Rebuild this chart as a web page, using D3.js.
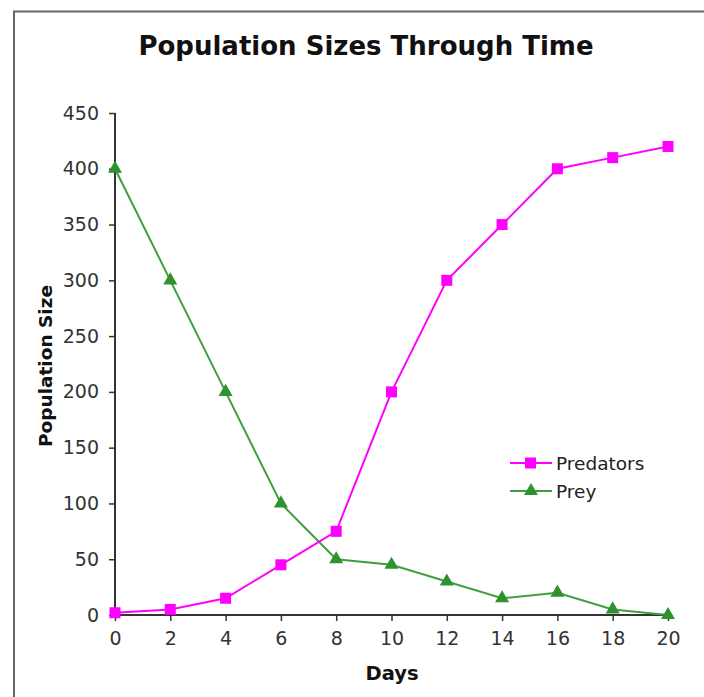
<!DOCTYPE html>
<html><head><meta charset="utf-8">
<script src="https://cdn.jsdelivr.net/npm/d3@7"></script>
<style>body{margin:0;background:#fff}svg{display:block}</style>
</head><body>
<script>
const days = [0,2,4,6,8,10,12,14,16,18,20];
const predators = [2,5,15,45,75,200,300,350,400,410,420];
const prey = [400,300,200,100,50,45,30,15,20,5,0];
const yTicks = [0,50,100,150,200,250,300,350,400,450];
const xTicks = [0,2,4,6,8,10,12,14,16,18,20];

const W=704,H=697;
const svg=d3.select("body").append("svg").attr("width",W).attr("height",H);
svg.append("rect").attr("width",W).attr("height",H).attr("fill","#fff");
svg.append("path").attr("d","M14,"+H+"V11.5H"+W).attr("fill","none").attr("stroke","#666").attr("stroke-width",2);

const font="DejaVu Sans, Verdana, sans-serif";
const x=d3.scaleLinear().domain([0,20]).range([115,668]);
const y=d3.scaleLinear().domain([0,450]).range([615,113]);

svg.append("text").attr("x",366).attr("y",55).attr("text-anchor","middle")
  .attr("font-family",font).attr("font-weight","bold").attr("font-size",26).attr("fill","#111")
  .text("Population Sizes Through Time");

const ya=svg.append("g").attr("transform","translate(115,0)")
  .call(d3.axisLeft(y).tickValues(yTicks).tickSize(6).tickPadding(10).tickFormat(d3.format("d")));
const xa=svg.append("g").attr("transform","translate(0,615)")
  .call(d3.axisBottom(x).tickValues(xTicks).tickSize(6).tickPadding(11).tickFormat(d3.format("d")));
[ya,xa].forEach(a=>{
  a.select(".domain").attr("stroke","#333").attr("stroke-width",2).attr("d", a===ya? "M0,"+y(450)+"V"+y(0) : "M"+x(0)+",0H"+x(20));
  a.selectAll(".tick line").attr("stroke","#333").attr("stroke-width",1.5);
  a.selectAll(".tick text").attr("font-family",font).attr("font-size",19).attr("fill","#333");
});

svg.append("text").attr("transform","translate(52,366) rotate(-90)").attr("text-anchor","middle")
  .attr("font-family",font).attr("font-weight","bold").attr("font-size",18.5).attr("fill","#111").text("Population Size");
svg.append("text").attr("x",392).attr("y",680).attr("text-anchor","middle")
  .attr("font-family",font).attr("font-weight","bold").attr("font-size",19.5).attr("fill","#111").text("Days");

const line=d3.line().x(d=>x(d[0])).y(d=>y(d[1]));
const pred=days.map((d,i)=>[d,predators[i]]);
const pr=days.map((d,i)=>[d,prey[i]]);
const magenta="#ff00ff", green="#3f9f3f", gDark="#2e922e";

svg.append("path").datum(pr).attr("d",line).attr("fill","none").attr("stroke",green).attr("stroke-width",2);
svg.append("path").datum(pred).attr("d",line).attr("fill","none").attr("stroke",magenta).attr("stroke-width",2);

const tri=d3.symbol().type(d3.symbolTriangle).size(85);
svg.selectAll(".pt").data(pr).join("path").attr("transform",d=>`translate(${x(d[0])},${y(d[1])})`)
  .attr("d",tri).attr("fill",gDark);
svg.selectAll(".pm").data(pred).join("rect").attr("x",d=>x(d[0])-5.5).attr("y",d=>y(d[1])-5.5)
  .attr("width",11).attr("height",11).attr("fill",magenta);

const lg=svg.append("g");
const items=[["Predators",magenta,"sq"],["Prey",green,"tri"]];
items.forEach((it,i)=>{
  const yy=463+i*28;
  lg.append("line").attr("x1",510).attr("x2",552).attr("y1",yy).attr("y2",yy).attr("stroke",it[1]).attr("stroke-width",2);
  if(it[2]==="sq") lg.append("rect").attr("x",525).attr("y",yy-5.5).attr("width",11).attr("height",11).attr("fill",it[1]);
  else lg.append("path").attr("transform",`translate(531,${yy})`).attr("d",tri).attr("fill",gDark);
  lg.append("text").attr("x",556).attr("y",yy+7).attr("font-family",font).attr("font-size",18.5).attr("fill","#222").text(it[0]);
});
</script>
</body></html>
